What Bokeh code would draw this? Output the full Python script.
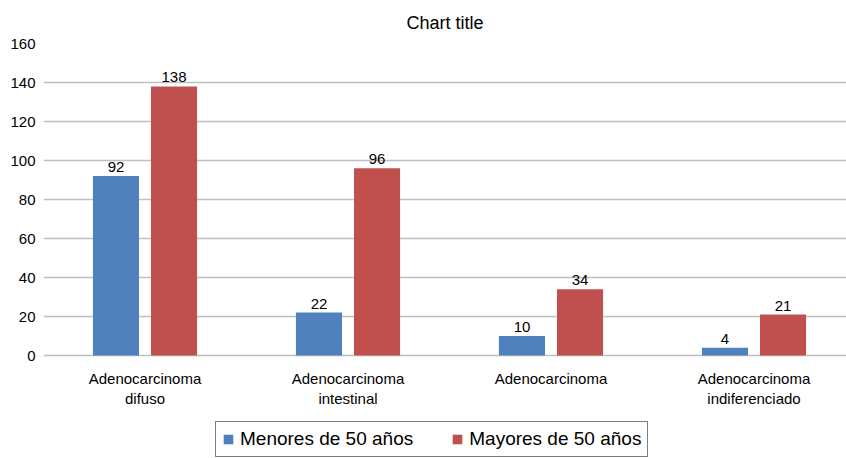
from bokeh.plotting import figure
from bokeh.models import ColumnDataSource, FixedTicker, Legend, LegendItem, Range1d
from bokeh.transform import dodge
from bokeh.embed import file_html
from bokeh.resources import INLINE

categories = ["Adenocarcinoma\ndifuso", "Adenocarcinoma\nintestinal", "Adenocarcinoma", "Adenocarcinoma\nindiferenciado"]
menores = [92, 22, 10, 4]
mayores = [138, 96, 34, 21]
series_names = ["Menores de 50 años", "Mayores de 50 años"]
y_ticks = [0, 20, 40, 60, 80, 100, 120, 140, 160]

FONT = "Liberation Sans"
BLUE = "#4F81BD"
RED = "#C0504D"

xs = [i + 0.5 for i in range(len(categories))]
src = ColumnDataSource(dict(x=xs, menores=menores, mayores=mayores,
                            lm=[str(v) for v in menores], lM=[str(v) for v in mayores]))

# frame spans from the top grid line down to the bottom of the legend; value 0 sits 103px above frame bottom
px_per_unit = 312 / 160
p = figure(frame_width=803, frame_height=415, output_backend="svg", toolbar_location=None,
           x_range=Range1d(0, 803 / 203), y_range=Range1d(-103 / px_per_unit, 160),
           min_border_left=43, min_border_right=0, min_border_top=43, min_border_bottom=0,
           title="Chart title")
p.title.align = "center"
p.title.text_font = FONT
p.title.text_font_size = "18px"
p.title.text_font_style = "normal"
p.title.text_color = "#000000"
p.title.standoff = 21
p.outline_line_color = None

r1 = p.vbar(x=dodge("x", -0.143, range=p.x_range), top="menores", width=0.227, source=src,
            fill_color=BLUE, line_color=None)
r2 = p.vbar(x=dodge("x", 0.143, range=p.x_range), top="mayores", width=0.227, source=src,
            fill_color=RED, line_color=None)

p.text(x=dodge("x", -0.143, range=p.x_range), y="menores", text="lm", source=src,
       text_align="center", text_baseline="bottom", y_offset=-4,
       text_font_size="15px", text_font={"value": FONT}, text_color="#000000")
p.text(x=dodge("x", 0.143, range=p.x_range), y="mayores", text="lM", source=src,
       text_align="center", text_baseline="bottom", y_offset=-4,
       text_font_size="15px", text_font={"value": FONT}, text_color="#000000")

p.xaxis.fixed_location = 0
p.xaxis.ticker = FixedTicker(ticks=xs)
p.xaxis.major_label_overrides = {x: c for x, c in zip(xs, categories)}
p.xaxis.axis_line_color = None
p.xaxis.major_tick_line_color = None
p.xaxis.minor_tick_line_color = None
p.xaxis.major_label_text_font = FONT
p.xaxis.major_label_text_font_size = "15px"
p.xaxis.major_label_text_color = "#000000"
p.xaxis.major_label_standoff = 8

p.yaxis.ticker = FixedTicker(ticks=y_ticks)
p.yaxis.axis_line_color = None
p.yaxis.major_tick_line_color = None
p.yaxis.minor_tick_line_color = None
p.yaxis.major_label_text_font = FONT
p.yaxis.major_label_text_font_size = "15px"
p.yaxis.major_label_text_color = "#000000"
p.yaxis.major_label_standoff = 2

p.xgrid.grid_line_color = None
p.ygrid.grid_line_color = "#BFBFBF"
p.ygrid.grid_line_width = 1.5

legend = Legend(items=[LegendItem(label=series_names[0], renderers=[r1]),
                       LegendItem(label=series_names[1], renderers=[r2])],
                orientation="horizontal", location=(172, 1),
                label_text_font=FONT, label_text_font_size="19px",
                label_text_color="#000000", label_standoff=6,
                glyph_width=12, glyph_height=12, spacing=38,
                border_line_color="#000000", border_line_width=1,
                background_fill_alpha=1.0,
                padding=6, margin=0)
p.add_layout(legend, "center")

open("out.html", "w").write(file_html(p, INLINE))
